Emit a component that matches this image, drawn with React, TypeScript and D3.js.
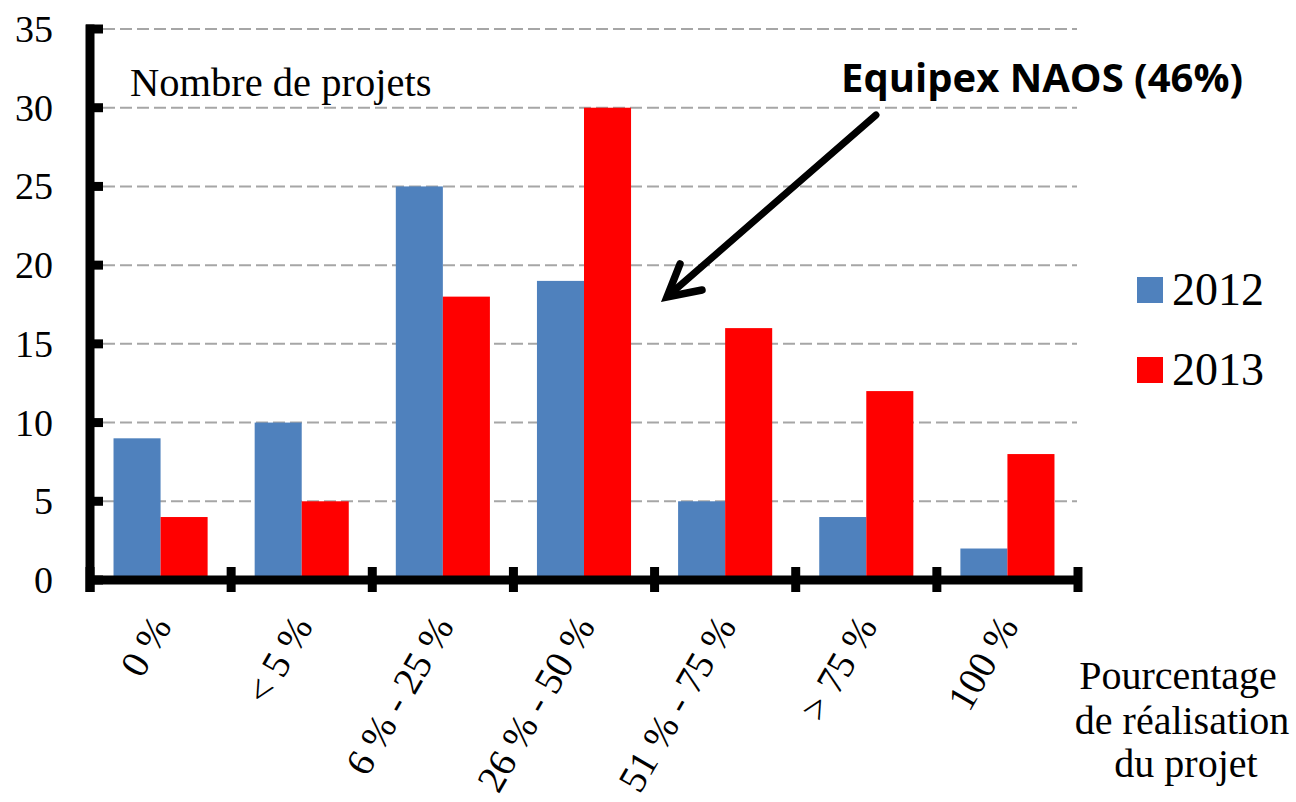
import React from "react";
import * as d3 from "d3";

const categories = ["0 %", "< 5 %", "6 % - 25 %", "26 % - 50 %", "51 % - 75 %", "> 75 %", "100 %"];
const seriesNames = ["2012", "2013"];
const values2012 = [9, 10, 25, 19, 5, 4, 2];
const values2013 = [4, 5, 18, 30, 16, 12, 8];
const yTicks = [0, 5, 10, 15, 20, 25, 30, 35];
const colors = ["#4f81bd", "#ff0000"];

const W = 1296;
const H = 802;
const serif = "'Liberation Serif', 'Times New Roman', serif";

export default function App() {
  const x = d3.scaleBand<string>().domain(categories).range([90, 1078]).paddingInner(0).paddingOuter(0);
  const xSub = d3.scaleBand<string>().domain(seriesNames).range([0, x.bandwidth()]).paddingInner(0).paddingOuter(0.5);
  const y = d3.scaleLinear().domain([0, 35]).range([580, 29]);
  const series = [values2012, values2013];

  const tickXs = [...categories.map((c) => x(c) as number), 1078];

  return (
    <svg width={W} height={H} style={{ position: "absolute", left: 0, top: 0, background: "#fff" }}>
      {/* gridlines */}
      {yTicks.filter((t) => t > 0).map((t) => (
        <line key={"g" + t} x1={103} x2={1077} y1={y(t)} y2={y(t)} stroke="#a6a6a6" strokeWidth={2} strokeDasharray="12,5" />
      ))}
      {/* bars */}
      {categories.map((c, i) => (
        <g key={c}>
          {seriesNames.map((s, j) => (
            <rect
              key={s}
              x={(x(c) as number) + (xSub(s) as number)}
              y={y(series[j][i])}
              width={xSub.bandwidth()}
              height={y(0) - y(series[j][i])}
              fill={colors[j]}
            />
          ))}
        </g>
      ))}
      {/* y axis */}
      <line x1={90} x2={90} y1={y(35) - 4.5} y2={592} stroke="#000" strokeWidth={9} />
      {yTicks.map((t) => (
        <line key={"yt" + t} x1={86} x2={103} y1={y(t)} y2={y(t)} stroke="#000" strokeWidth={9} />
      ))}
      {yTicks.map((t) => (
        <text key={"yl" + t} x={53} y={y(t)} textAnchor="end" dominantBaseline="central" fontFamily={serif} fontSize={38} fill="#000">
          {t}
        </text>
      ))}
      {/* x axis */}
      <line x1={86} x2={1082} y1={y(0)} y2={y(0)} stroke="#000" strokeWidth={9} />
      {tickXs.map((tx, i) => (
        <line key={"xt" + i} x1={tx} x2={tx} y1={567} y2={592} stroke="#000" strokeWidth={9} />
      ))}
      {categories.map((c) => {
        const cx = (x(c) as number) + x.bandwidth() / 2 + 12;
        const cy = 626;
        return (
          <text key={"xl" + c} x={cx} y={cy} textAnchor="end" fontFamily={serif} fontSize={39} fill="#000" transform={`rotate(-60 ${cx} ${cy})`}>
            {c}
          </text>
        );
      })}
      {/* axis titles */}
      <text x={130} y={96} fontFamily={serif} fontSize={40.5} fill="#000">Nombre de projets</text>
      <text textAnchor="middle" fontFamily={serif} fontSize={40} fill="#000">
        <tspan x={1178} y={689}>Pourcentage</tspan>
        <tspan x={1182} y={734}>de réalisation</tspan>
        <tspan x={1186} y={777}>du projet</tspan>
      </text>
      {/* legend */}
      {seriesNames.map((s, j) => (
        <g key={"lg" + s}>
          <rect x={1137} y={277 + j * 80} width={26} height={26} fill={colors[j]} />
          <text x={1172} y={305 + j * 80} fontFamily={serif} fontSize={46} fill="#000">{s}</text>
        </g>
      ))}
      {/* annotation */}
      <text x={841} y={92} fontFamily="'Open Sans', 'Liberation Sans', sans-serif" fontWeight="bold" fontSize={39} textLength={402} lengthAdjust="spacingAndGlyphs" fill="#000">
        Equipex NAOS (46%)
      </text>
      <line x1={876} y1={115} x2={668} y2={296} stroke="#000" strokeWidth={7} strokeLinecap="round" />
      <polyline points="680,264 667,297 702,290" fill="none" stroke="#000" strokeWidth={7.5} strokeLinecap="round" strokeLinejoin="miter" />
    </svg>
  );
}
